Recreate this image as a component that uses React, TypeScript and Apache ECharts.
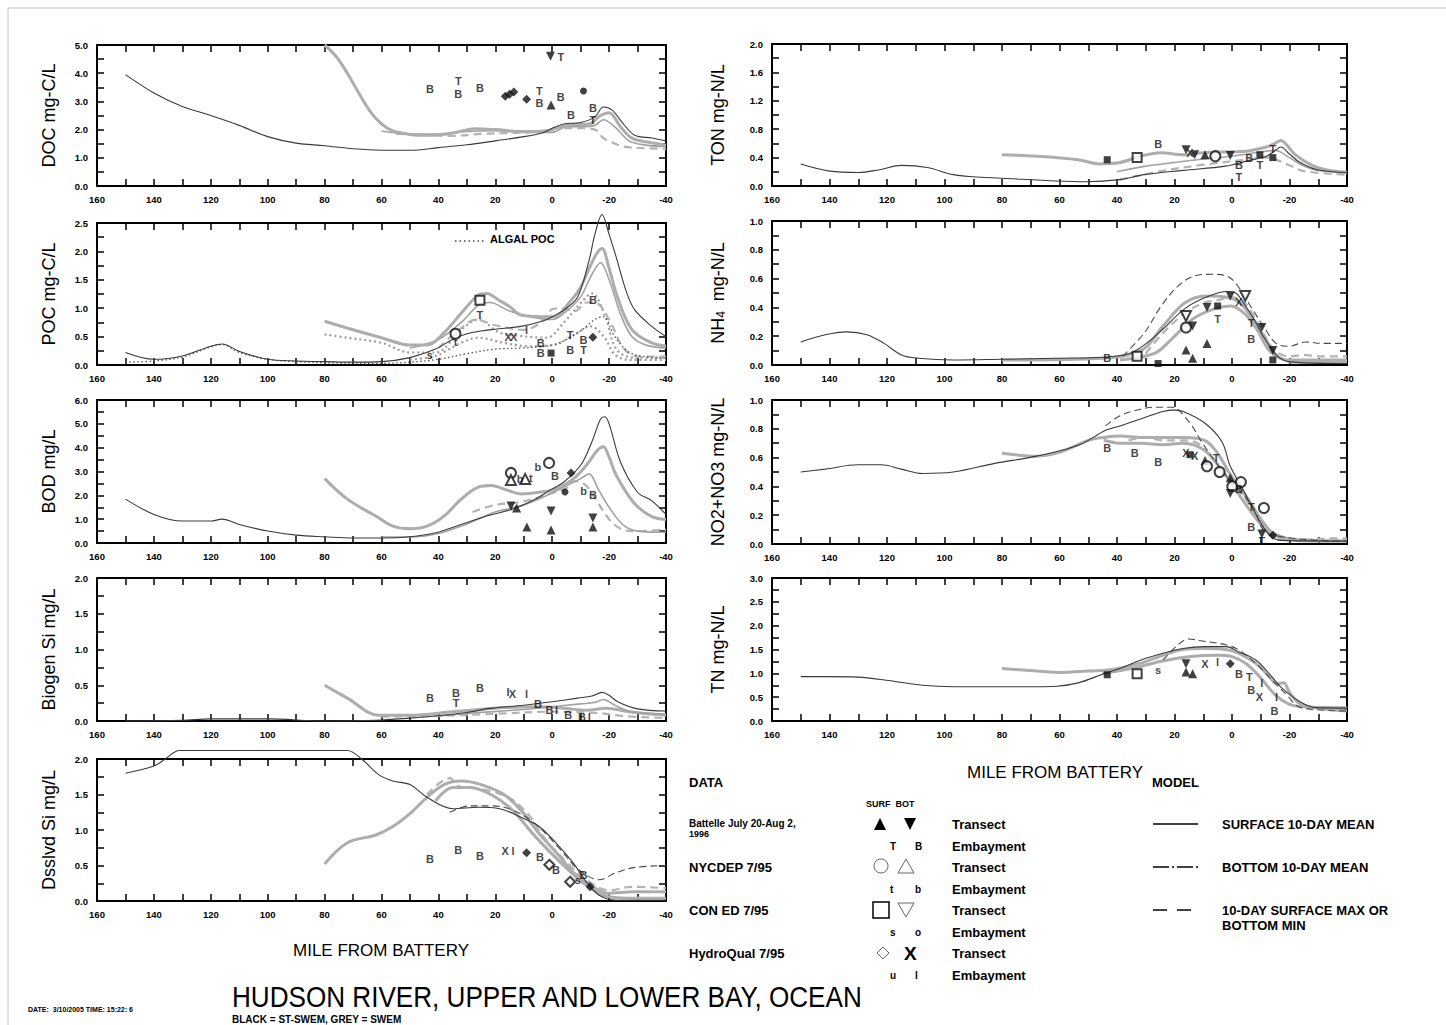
import React, { useEffect, useRef } from "react";
import * as echarts from "echarts";

// ---------- x axis (miles from Battery) ----------
const mileMin = -40;
const mileMax = 160;

// ---------- DOC ----------
const docKMean = [[150,3.95],[140,3.3],[130,2.82],[120,2.5],[110,2.15],[100,1.75],[90,1.52],[80,1.43],[70,1.32],[60,1.27],[50,1.27],[40,1.36],[30,1.46],[20,1.6],[10,1.75],[3,1.9],[0,2.05],[-4,2.2],[-10,2.25],[-15,2.45],[-18,2.8],[-21,2.7],[-25,2.2],[-29,1.8],[-35,1.7],[-40,1.6]];
const docGMean = [[80,5.0],[76,4.6],[72,4.0],[68,3.3],[64,2.65],[60,2.2],[56,1.95],[50,1.83],[45,1.8],[40,1.82],[34,1.9],[27,2.03],[20,2.0],[10,1.93],[2,1.95],[-3,2.1],[-7,2.17],[-13,2.2],[-17,2.5],[-20,2.6],[-24,2.1],[-28,1.7],[-34,1.55],[-40,1.45]];
const docGBot = [[60,1.95],[50,1.85],[40,1.84],[30,1.93],[20,1.96],[10,1.9],[0,1.9],[-5,2.1],[-10,2.1],[-15,2.15],[-18,2.35],[-22,2.1],[-27,1.6],[-33,1.45],[-40,1.4]];
const docGDash = [[55,1.85],[45,1.8],[35,1.78],[25,1.85],[15,1.88],[5,1.92],[-3,2.05],[-10,2.05],[-15,2.0],[-18,1.7],[-21,1.55],[-25,1.4],[-30,1.35],[-40,1.32]];
const docMarks = [[43,3.44,"B"],[33,3.72,"T"],[33,3.25,"B"],[25.4,3.47,"B"],[16.5,3.18,"d"],[15,3.25,"d"],[13.5,3.33,"d"],[9,3.08,"d"],[4.5,3.36,"T"],[4.5,2.95,"B"],[0.4,2.87,"^"],[-3,3.16,"B"],[0.6,4.6,"v"],[-3,4.58,"T"],[-6.6,2.52,"B"],[-11,3.37,"e"],[-14.3,2.75,"B"],[-14.3,2.35,"T"]];

// ---------- POC ----------
const pocKMean = [[150,0.22],[140,0.1],[130,0.16],[120,0.33],[116,0.37],[110,0.24],[100,0.1],[90,0.07],[80,0.06],[70,0.05],[60,0.06],[50,0.13],[41,0.28],[35,0.45],[30,0.55],[25,0.6],[20,0.63],[11,0.68],[3,0.78],[0,0.85],[-5,1.0],[-9,1.2],[-13,1.85],[-15,2.3],[-17.5,2.65],[-20,2.3],[-22.5,1.9],[-26,1.3],[-29,0.97],[-35,0.68],[-40,0.5]];
const pocKDot = [[150,0.05],[140,0.07],[130,0.14],[120,0.32],[116,0.36],[110,0.22],[100,0.1],[90,0.06],[80,0.04],[60,0.03],[50,0.05],[40,0.1],[30,0.2],[20,0.28],[10,0.3],[0,0.35],[-5,0.45],[-10,0.6],[-15,0.8],[-18,0.85],[-22,0.5],[-28,0.2],[-40,0.12]];
const pocGMean = [[80,0.77],[70,0.62],[60,0.48],[50,0.35],[44,0.35],[38,0.57],[32,0.91],[26,1.23],[23,1.26],[19,1.15],[15,1.03],[11,0.88],[3,0.85],[-1,0.85],[-6,1.1],[-10,1.37],[-13,1.7],[-15.5,1.95],[-17.5,2.05],[-20,1.7],[-22.5,1.26],[-26,0.8],[-29,0.57],[-35,0.39],[-40,0.33]];
const pocGBot = [[50,0.3],[40,0.45],[32,0.75],[26,1.05],[22,1.1],[15,0.95],[8,0.85],[0,0.8],[-5,0.95],[-10,1.2],[-14,1.6],[-17,1.8],[-20,1.5],[-24,0.9],[-28,0.5],[-33,0.35],[-40,0.3]];
const pocGDot1 = [[80,0.54],[72,0.48],[60,0.39],[50,0.22],[41,0.22],[32,0.62],[26,0.8],[18.5,0.57],[11,0.51],[2,0.48],[-4,0.74],[-10,1.09],[-14,1.26],[-18.7,0.85],[-22.5,0.28],[-28.6,0.13],[-40,0.13]];
const pocGDot2 = [[50,0.1],[41,0.16],[32,0.39],[26,0.48],[17,0.39],[8,0.33],[-1,0.36],[-7,0.51],[-13.5,0.68],[-18,0.51],[-22.5,0.16],[-28.6,0.09],[-40,0.09]];
const pocGDash = [[40,0.3],[32,0.65],[27,0.8],[20,0.7],[10,0.62],[4,0.75],[0,0.98],[-3,1.0],[-8,0.95],[-12,1.1],[-15,1.1],[-20,0.8],[-25,0.3],[-30,0.15],[-40,0.15]];
const pocMarks = [[43,0.18,"s"],[34,0.55,"O"],[34,0.4,"t"],[25.4,1.14,"S"],[25.4,0.88,"T"],[15.5,0.49,"X"],[13.5,0.49,"X"],[9,0.62,"l"],[4,0.39,"B"],[4,0.21,"B"],[0.4,0.21,"Q"],[-6.3,0.53,"T"],[-6.3,0.26,"B"],[-11,0.44,"B"],[-11,0.26,"T"],[-14.3,0.49,"d"],[-14.3,1.14,"B"]];

// ---------- BOD ----------
const bodKMean = [[150,1.84],[140,1.2],[130,0.92],[120,0.92],[116,1.0],[110,0.78],[100,0.5],[90,0.33],[80,0.26],[70,0.21],[60,0.21],[50,0.26],[41,0.43],[32,0.78],[23,1.13],[14,1.42],[6,1.84],[0,2.27],[-4,2.55],[-10,3.26],[-14,4.26],[-17,5.2],[-18.5,5.3],[-20,5.0],[-24,3.4],[-30,2.13],[-35,1.77],[-40,1.2]];
const bodGMean = [[80,2.7],[72,1.84],[62,1.13],[56,0.71],[50,0.6],[44,0.71],[38,1.13],[32,1.84],[26,2.34],[21.5,2.41],[15.5,2.2],[11,2.06],[4.6,2.13],[-1.5,2.27],[-7.5,2.7],[-12,3.26],[-16,3.9],[-18,4.04],[-20,3.6],[-22.5,2.84],[-28.6,1.7],[-34.7,1.13],[-40,0.99]];
const bodGBot = [[60,0.25],[50,0.25],[40,0.4],[30,0.8],[20,1.3],[10,1.6],[0,2.1],[-5,2.4],[-10,2.7],[-13,2.9],[-16,2.3],[-20,1.5],[-25,0.75],[-30,0.5],[-40,0.45]];
const bodGDash = [[28,1.3],[20,1.6],[12,1.7],[5,1.9],[0,2.1],[-5,2.3],[-8,2.6],[-12,2.4],[-16,1.7],[-20,1.0],[-24,0.6],[-28,0.5],[-40,0.55]];
const bodMarks = [[14.5,2.94,"O"],[14.5,2.64,"A"],[11.3,2.69,"b"],[9.5,2.69,"A"],[7.5,2.72,"t"],[5,3.19,"b"],[1.1,3.36,"O"],[-4.5,2.14,"e"],[-1,2.8,"B"],[-6.6,2.94,"d"],[-11,2.2,"b"],[-14.3,2.0,"B"],[14.5,1.55,"v"],[12.5,1.47,"^"],[8.9,0.67,"^"],[0.4,1.34,"v"],[0.4,0.55,"^"],[-14.3,1.05,"v"],[-14.3,0.67,"^"]];

// ---------- Biogenic Si ----------
const biKMean = [[150,0.0],[130,0.01],[120,0.03],[100,0.03],[80,0.0],[62,0.01],[50,0.04],[41,0.07],[30,0.12],[21,0.18],[10,0.22],[0,0.27],[-9,0.32],[-14,0.35],[-17.5,0.4],[-20,0.36],[-23,0.27],[-30,0.17],[-40,0.14]];
const biKMean2 = [[40,0.07],[25,0.12],[10,0.16],[0,0.2],[-10,0.24],[-15,0.26],[-18,0.3],[-22,0.22],[-28,0.13],[-40,0.1]];
const biGMean = [[80,0.5],[72,0.32],[61,0.08],[50,0.08],[35,0.13],[20,0.18],[5,0.2],[-4,0.18],[-12,0.15],[-19,0.18],[-27,0.13],[-40,0.08]];
const biGDash = [[60,0.06],[41,0.07],[20,0.1],[0,0.13],[-16.5,0.11],[-25,0.07],[-40,0.04]];
const biMarks = [[43,0.32,"B"],[33.8,0.39,"B"],[33.8,0.25,"T"],[25.4,0.46,"B"],[15.5,0.4,"l"],[14,0.38,"X"],[9,0.38,"l"],[5,0.24,"B"],[1,0.16,"B"],[-1.5,0.15,"l"],[-5.6,0.08,"B"],[-10.5,0.05,"B"],[-13,0.06,"l"]];

// ---------- Dissolved Si ----------
const dsKMean = [[150,1.8],[140,1.9],[136,2.0],[131,2.12],[120,2.12],[100,2.12],[80,2.12],[72,2.12],[67,2.0],[61,1.78],[56,1.69],[50,1.64],[44,1.46],[35,1.3],[26,1.32],[18.5,1.3],[11,1.18],[4.6,1.05],[-1.3,0.82],[-7.3,0.54],[-12,0.27],[-16.5,0.08],[-22.5,0.01],[-40,0.01]];
const dsKDash = [[36,1.25],[29,1.34],[21.5,1.34],[14,1.28],[6,1.09],[-3,0.72],[-9,0.45],[-16.5,0.3],[-22.5,0.4],[-28.6,0.47],[-40,0.5]];
const dsGMean = [[80,0.52],[72,0.82],[62,0.93],[56,1.05],[50,1.23],[44,1.46],[38,1.64],[32,1.69],[25,1.64],[17,1.5],[11,1.28],[4.6,0.95],[-1.5,0.68],[-7.5,0.4],[-13.5,0.22],[-19.5,0.11],[-28.6,0.13],[-40,0.13]];
const dsGBot = [[41,1.41],[35,1.6],[29,1.6],[21.5,1.5],[14,1.28],[6,0.91],[-3,0.54],[-10.4,0.27],[-18,0.08],[-27,0.04],[-40,0.04]];
const dsGDash = [[44,1.5],[36,1.73],[33,1.62],[25,1.58],[15,1.45],[8,1.2],[2,0.85],[-5,0.55],[-12,0.3],[-20,0.15],[-28,0.2],[-40,0.18]];
const dsMarks = [[43,0.59,"B"],[33,0.72,"B"],[25.4,0.63,"B"],[16.5,0.7,"X"],[13.8,0.7,"l"],[9,0.68,"d"],[4.3,0.62,"B"],[1,0.51,"D"],[-1.3,0.44,"B"],[-11,0.37,"B"],[-6.3,0.27,"D"],[-13.3,0.2,"d"],[-9,0.3,"s"]];

// ---------- TON ----------
const tonKMean = [[150,0.31],[140,0.21],[130,0.19],[122.6,0.23],[115,0.29],[106,0.26],[97,0.16],[90,0.13],[80,0.11],[61,0.07],[51,0.06],[39,0.09],[30.5,0.16],[17,0.22],[2.3,0.28],[-5,0.35],[-12,0.42],[-15,0.5],[-17,0.55],[-20,0.45],[-23.7,0.33],[-29.6,0.23],[-40,0.19]];
const tonGMean = [[80,0.44],[68,0.42],[53.5,0.37],[46,0.31],[39,0.33],[32,0.42],[24.6,0.47],[17,0.44],[9.9,0.47],[2.5,0.48],[-4.8,0.49],[-12,0.55],[-15,0.6],[-17,0.64],[-19,0.58],[-22,0.44],[-29.6,0.26],[-40,0.19]];
const tonGBot = [[40,0.2],[30,0.28],[20,0.33],[10,0.38],[0,0.42],[-10,0.48],[-15,0.5],[-20,0.4],[-25,0.28],[-30,0.22],[-40,0.2]];
const tonGDash = [[39,0.09],[24.6,0.21],[9.9,0.3],[-4.8,0.37],[-12,0.4],[-19.5,0.3],[-25,0.21],[-40,0.16]];
const tonMarks = [[43.4,0.37,"Q"],[33,0.4,"S"],[25.7,0.59,"B"],[16,0.51,"v"],[14.6,0.47,"X"],[13,0.44,"v"],[9.4,0.44,"^"],[5.8,0.42,"O"],[0.6,0.43,"v"],[-2.4,0.3,"B"],[-2.4,0.12,"T"],[-6,0.4,"B"],[-9.7,0.44,"Q"],[-9.7,0.3,"T"],[-14.2,0.4,"Q"],[-14.2,0.52,"T"]];

// ---------- NH4 ----------
const nhKMean = [[150,0.16],[141.5,0.21],[134,0.23],[127,0.21],[121,0.15],[115,0.07],[109,0.047],[97,0.035],[80,0.04],[61,0.047],[44.6,0.054],[35.7,0.08],[29.8,0.15],[24,0.25],[16.5,0.39],[9.1,0.47],[1.7,0.51],[-1.3,0.5],[-4,0.43],[-7,0.34],[-11.5,0.18],[-15.9,0.06],[-20.8,0.02],[-40,0.01]];
const nhKDash = [[38,0.06],[30.6,0.22],[24.6,0.41],[18.7,0.55],[12.8,0.62],[6.9,0.63],[1,0.61],[-2.7,0.53],[-6.4,0.41],[-10.9,0.27],[-15.3,0.15],[-19.7,0.13],[-25.6,0.16],[-31.5,0.15],[-40,0.15]];
const nhGMean = [[80,0.035],[44.6,0.047],[31.3,0.105],[24,0.27],[16.5,0.43],[9.1,0.48],[1.7,0.47],[-2.8,0.43],[-7.2,0.32],[-11.6,0.18],[-16,0.06],[-22,0.02],[-40,0.02]];
const nhGBot = [[39,0.035],[27,0.08],[21,0.18],[13.6,0.32],[6.2,0.39],[0.3,0.41],[-4.2,0.36],[-8.6,0.25],[-13,0.1],[-19,0.035],[-40,0.035]];
const nhGDash = [[30,0.08],[25,0.2],[20,0.3],[15,0.38],[10,0.43],[5,0.45],[0,0.47],[-5,0.42],[-10,0.25],[-15,0.1],[-20,0.06],[-25,0.07],[-30,0.06],[-40,0.06]];
const nhMarks = [[43.4,0.047,"B"],[33,0.06,"S"],[25.7,0.01,"Q"],[16,0.105,"^"],[13.7,0.047,"^"],[8.7,0.15,"^"],[16,0.34,"V"],[13.7,0.27,"v"],[16,0.26,"O"],[8.7,0.4,"v"],[5,0.41,"Q"],[5,0.32,"T"],[0.6,0.48,"v"],[-2.4,0.44,"X"],[-4.6,0.48,"V"],[-6.7,0.29,"T"],[-10.4,0.26,"v"],[-6.7,0.18,"B"],[-14.2,0.1,"v"],[-14.2,0.035,"Q"]];

// ---------- NO2+NO3 ----------
const noKMean = [[150,0.5],[141.5,0.52],[130,0.55],[122,0.55],[115,0.52],[107.6,0.49],[97,0.5],[82.5,0.56],[68,0.61],[53,0.69],[44,0.79],[39,0.82],[31.6,0.87],[24,0.92],[20.4,0.93],[17,0.92],[9.5,0.84],[3.5,0.71],[0.6,0.54],[-3.8,0.38],[-8.2,0.21],[-12.7,0.07],[-17,0.025],[-40,0.02]];
const noKDash = [[44,0.82],[39,0.89],[33,0.93],[27,0.95],[21,0.95],[15,0.85],[10.6,0.71],[4.6,0.54],[-1.3,0.4],[-7.2,0.26],[-12.7,0.07],[-40,0.02]];
const noGMean = [[80,0.63],[68,0.61],[59.5,0.64],[50,0.72],[44.6,0.74],[39,0.75],[31.6,0.74],[24,0.74],[17,0.74],[9.5,0.72],[5,0.63],[0.5,0.48],[-5.3,0.32],[-9.8,0.18],[-14,0.08],[-20,0.035],[-26,0.02],[-40,0.02]];
const noGBot = [[44.6,0.72],[39,0.7],[31.6,0.7],[24,0.69],[17,0.7],[9.5,0.65],[3.5,0.51],[-2.5,0.34],[-8.3,0.18],[-12.7,0.08],[-20,0.035],[-40,0.02]];
const noGDash = [[36,0.72],[30,0.74],[24,0.72],[17,0.72],[12,0.7],[8,0.62],[3,0.5],[-2,0.38],[-7,0.25],[-12,0.1],[-18,0.03],[-25,0.03],[-35,0.04],[-40,0.04]];
const noMarks = [[43.4,0.67,"B"],[33.8,0.63,"B"],[25.7,0.57,"B"],[16,0.63,"X"],[14.6,0.62,"Q"],[13,0.61,"X"],[9.4,0.58,"^"],[8.7,0.54,"O"],[5.5,0.6,"T"],[4.3,0.5,"O"],[0.6,0.46,"^"],[-0.1,0.4,"O"],[0.6,0.35,"v"],[-2.4,0.38,"B"],[-3.1,0.43,"O"],[-6.7,0.26,"T"],[-11.1,0.25,"O"],[-6.7,0.12,"B"],[-10.4,0.07,"v"],[-10.4,0.02,"T"],[-14.2,0.06,"d"]];

// ---------- TN ----------
const tnKMean = [[150,0.93],[141.5,0.93],[130,0.92],[119.6,0.85],[107.6,0.75],[97,0.72],[82.5,0.72],[68,0.72],[61,0.73],[53.5,0.8],[44.6,0.99],[39,1.1],[31.6,1.28],[24,1.42],[17,1.52],[9.5,1.56],[2.2,1.56],[-2.4,1.45],[-8.3,1.28],[-14,0.92],[-17,0.71],[-23,0.43],[-29,0.28],[-40,0.27]];
const tnKDash = [[24,1.28],[18.2,1.63],[15.2,1.72],[9.5,1.67],[2.2,1.6],[-2.4,1.49],[-8.3,1.21],[-14,0.85],[-18.7,0.57],[-24,0.28],[-40,0.21]];
const tnGMean = [[80,1.1],[68,1.05],[59.5,1.02],[50,1.05],[41.6,1.08],[32.5,1.2],[24,1.38],[17,1.5],[9.5,1.52],[2.2,1.5],[-2.4,1.42],[-8.3,1.21],[-12.7,0.95],[-15.7,0.78],[-18,0.8],[-20,0.6],[-24,0.35],[-40,0.21]];
const tnGBot = [[45,1.0],[35,1.1],[25,1.25],[15,1.35],[5,1.38],[0,1.35],[-5,1.2],[-10,0.9],[-15,0.55],[-20,0.35],[-25,0.3],[-40,0.28]];
const tnMarks = [[43.4,0.97,"Q"],[33,0.99,"S"],[25.7,1.06,"s"],[16,1.2,"v"],[16,1.03,"^"],[13.7,0.99,"^"],[9.4,1.2,"X"],[5,1.23,"l"],[0.6,1.2,"d"],[-2.4,0.99,"B"],[-6,0.92,"T"],[-10.4,0.8,"l"],[-6.7,0.64,"B"],[-9.5,0.5,"X"],[-15.5,0.5,"l"],[-14.8,0.22,"B"]];

// ---------- panel definitions (content) ----------
const panels = [
  { name: "DOC mg-C/L", yMax: 5, tick: 0.5, label: 1, lines: [[docGBot, "gt"], [docGDash, "gd"], [docGMean, "g"], [docKMean, "k"]], marks: docMarks },
  { name: "POC mg-C/L", yMax: 2.5, tick: 0.25, label: 0.5, lines: [[pocGDot2, "gdot"], [pocGDot1, "gdot"], [pocGDash, "gd"], [pocGBot, "gt"], [pocGMean, "g"], [pocKDot, "kdot"], [pocKMean, "k"]], marks: pocMarks },
  { name: "BOD mg/L", yMax: 6, tick: 0.5, label: 1, lines: [[bodGDash, "gd"], [bodGBot, "gt"], [bodGMean, "g"], [bodKMean, "k"]], marks: bodMarks },
  { name: "Biogen Si mg/L", yMax: 2, tick: 0.25, label: 0.5, lines: [[biGDash, "gd"], [biGMean, "g"], [biKMean2, "gt"], [biKMean, "k"]], marks: biMarks },
  { name: "Dsslvd Si mg/L", yMax: 2, tick: 0.25, label: 0.5, lines: [[dsGDash, "gd"], [dsGBot, "g"], [dsGMean, "g"], [dsKDash, "kd"], [dsKMean, "k"]], marks: dsMarks },
  { name: "TON mg-N/L", yMax: 2, tick: 0.2, label: 0.4, lines: [[tonGDash, "gd"], [tonGBot, "gt"], [tonGMean, "g"], [tonKMean, "k"]], marks: tonMarks },
  { name: "NH{s|4}  mg-N/L", yMax: 1, tick: 0.1, label: 0.2, lines: [[nhGDash, "gd"], [nhGBot, "g"], [nhGMean, "g"], [nhKDash, "kd"], [nhKMean, "k"]], marks: nhMarks },
  { name: "NO2+NO3 mg-N/L", yMax: 1, tick: 0.1, label: 0.2, lines: [[noGDash, "gd"], [noGBot, "g"], [noGMean, "g"], [noKDash, "kd"], [noKMean, "k"]], marks: noMarks },
  { name: "TN mg-N/L", yMax: 3, tick: 0.25, label: 0.5, lines: [[tnGBot, "g"], [tnGMean, "g"], [tnKDash, "kd"], [tnKMean, "k"]], marks: tnMarks },
];

// ---------- layout (positions only) ----------
const layout = [
  { left: 97, top: 45, width: 569, height: 141, gap: 39 },
  { left: 97, top: 223, width: 569, height: 142, gap: 39 },
  { left: 97, top: 400, width: 569, height: 143, gap: 39 },
  { left: 97, top: 578, width: 569, height: 143, gap: 39 },
  { left: 97, top: 759, width: 569, height: 142, gap: 39 },
  { left: 772, top: 44, width: 575, height: 142, gap: 45 },
  { left: 772, top: 221, width: 575, height: 144, gap: 45 },
  { left: 772, top: 400, width: 575, height: 144, gap: 45 },
  { left: 772, top: 578, width: 575, height: 143, gap: 45 },
];

const lineStyles: Record<string, any> = {
  k: { color: "#3a3a3a", width: 1.1, type: "solid" },
  kd: { color: "#4a4a4a", width: 1.1, type: [7, 4] },
  kdot: { color: "#555555", width: 1.3, type: [1.5, 2.5] },
  g: { color: "#adadad", width: 3, type: "solid" },
  gt: { color: "#a2a2a2", width: 1.6, type: "solid" },
  gd: { color: "#b3b3b3", width: 2.2, type: [8, 5] },
  gdot: { color: "#9c9c9c", width: 2.2, type: [2, 3] },
};

const symbolMap: Record<string, any> = {
  "^": { symbol: "triangle", size: 9, rotate: 0 },
  v: { symbol: "triangle", size: 9, rotate: 180 },
  O: { symbol: "emptyCircle", size: 10, rotate: 0 },
  A: { symbol: "emptyTriangle", size: 10, rotate: 0 },
  S: { symbol: "emptyRect", size: 9, rotate: 0 },
  V: { symbol: "emptyTriangle", size: 10, rotate: 180 },
  D: { symbol: "emptyDiamond", size: 10, rotate: 0 },
  d: { symbol: "diamond", size: 9, rotate: 0 },
  Q: { symbol: "rect", size: 7, rotate: 0 },
  e: { symbol: "circle", size: 7, rotate: 0 },
};

const FONT = "Liberation Sans, Arial, sans-serif";

function buildOption() {
  const grid: any[] = [];
  const xAxis: any[] = [];
  const yAxis: any[] = [];
  const series: any[] = [];
  const axisLine = { show: true, onZero: false, lineStyle: { color: "#000", width: 2 } };
  const axisTick = { show: true, inside: true, length: 7, lineStyle: { color: "#000", width: 1.5 } };

  panels.forEach((p, i) => {
    const L = layout[i];
    grid.push({ left: L.left, top: L.top, width: L.width, height: L.height, containLabel: false });
    const xBase = { type: "value", gridIndex: i, min: mileMin, max: mileMax, interval: 10, inverse: true, axisLine, axisTick, splitLine: { show: false } };
    xAxis.push({
      ...xBase, position: "bottom",
      axisLabel: { show: true, fontSize: 9.5, fontWeight: "bold", color: "#000", margin: 8, fontFamily: FONT, formatter: (v: number) => (v % 20 === 0 ? String(v) : "") },
    });
    xAxis.push({ ...xBase, position: "top", axisLabel: { show: false } });
    const yBase = { type: "value", gridIndex: i, min: 0, max: p.yMax, interval: p.tick, axisLine, axisTick, splitLine: { show: false } };
    yAxis.push({
      ...yBase, position: "left",
      name: p.name, nameLocation: "middle", nameGap: L.gap, nameRotate: 90,
      nameTextStyle: { fontSize: 18, color: "#000", fontFamily: FONT, rich: { s: { fontSize: 12, fontFamily: FONT, color: "#000", verticalAlign: "bottom" } } },
      axisLabel: {
        show: true, fontSize: 9.5, fontWeight: "bold", color: "#000", margin: 9, fontFamily: FONT,
        formatter: (v: number) => { const r = v / p.label; return Math.abs(r - Math.round(r)) < 1e-6 ? v.toFixed(1) : ""; },
      },
    });
    yAxis.push({ ...yBase, position: "right", axisLabel: { show: false } });

    p.lines.forEach(([data, st]: any) => {
      const s = lineStyles[st];
      series.push({
        type: "line", xAxisIndex: 2 * i, yAxisIndex: 2 * i, data, showSymbol: false, symbol: "none",
        smooth: 0.35, clip: false, silent: true, z: st.startsWith("k") ? 3 : 2,
        lineStyle: { color: s.color, width: s.width, type: s.type },
      });
    });

    const groups: Record<string, any[]> = {};
    const letters: any[] = [];
    (p.marks as any[]).forEach(([m, v, c]) => {
      if (symbolMap[c]) { (groups[c] = groups[c] || []).push([m, v]); }
      else letters.push({ name: c, value: [m, v] });
    });
    Object.keys(groups).forEach((c) => {
      const sm = symbolMap[c];
      series.push({
        type: "scatter", xAxisIndex: 2 * i, yAxisIndex: 2 * i, data: groups[c], symbol: sm.symbol, symbolSize: sm.size, symbolRotate: sm.rotate,
        itemStyle: { color: "#111", borderWidth: 1.2 }, z: 5, silent: true,
      });
    });
    series.push({
      type: "scatter", xAxisIndex: 2 * i, yAxisIndex: 2 * i, data: letters, symbol: "circle", symbolSize: 1,
      itemStyle: { color: "rgba(0,0,0,0)" }, z: 6, silent: true,
      label: { show: true, position: "inside", formatter: "{b}", fontSize: 11, fontWeight: "bold", color: "#111", fontFamily: FONT },
    });
  });

  const t = (text: string, x: number, y: number, font: string, extra: any = {}) => ({
    type: "text", x, y, ...extra, style: { text, fill: "#000", font, align: "left", verticalAlign: "middle", ...(extra.style || {}) },
  });

  const graphic: any[] = [
    { type: "line", shape: { x1: 8, y1: 8, x2: 1446, y2: 8 }, style: { stroke: "#c4c4c4", lineWidth: 1 } },
    { type: "line", shape: { x1: 8, y1: 8, x2: 8, y2: 1025 }, style: { stroke: "#c4c4c4", lineWidth: 1 } },
    // algal POC key
    { type: "line", shape: { x1: 455, y1: 241, x2: 486, y2: 241 }, style: { stroke: "#444", lineWidth: 1.3, lineDash: [1.5, 3] } },
    t("ALGAL POC", 490, 239, "bold 11px " + FONT),
    // x titles
    t("MILE FROM BATTERY", 381, 950, "17px " + FONT, { style: { align: "center" } }),
    t("MILE FROM BATTERY", 1055, 772, "17px " + FONT, { style: { align: "center" } }),
    // legend
    t("DATA", 689, 782, "bold 13px " + FONT),
    t("MODEL", 1152, 782, "bold 13px " + FONT),
    t("SURF  BOT", 866, 804, "bold 9px " + FONT),
    t("Battelle July 20-Aug 2,", 689, 823, "bold 10px " + FONT),
    t("1996", 689, 834, "bold 9px " + FONT),
    t("NYCDEP 7/95", 689, 867, "bold 13px " + FONT),
    t("CON ED 7/95", 689, 910, "bold 13px " + FONT),
    t("HydroQual 7/95", 689, 953, "bold 13px " + FONT),
    { type: "polygon", shape: { points: [[874, 830], [886, 830], [880, 818]] }, style: { fill: "#000" } },
    { type: "polygon", shape: { points: [[904, 818], [916, 818], [910, 830]] }, style: { fill: "#000" } },
    { type: "circle", shape: { cx: 881, cy: 866, r: 7 }, style: { fill: "none", stroke: "#666", lineWidth: 1 } },
    { type: "polygon", shape: { points: [[898, 873], [914, 873], [906, 859]] }, style: { fill: "none", stroke: "#666", lineWidth: 1 } },
    { type: "rect", shape: { x: 873, y: 902, width: 16, height: 16 }, style: { fill: "none", stroke: "#000", lineWidth: 1.5 } },
    { type: "polygon", shape: { points: [[898, 903], [914, 903], [906, 917]] }, style: { fill: "none", stroke: "#666", lineWidth: 1 } },
    { type: "polygon", shape: { points: [[883, 947], [889, 953], [883, 959], [877, 953]] }, style: { fill: "none", stroke: "#666", lineWidth: 1 } },
    t("X", 904, 953, "bold 19px " + FONT),
  ];
  const emb = [["T", "B", 846], ["t", "b", 889], ["s", "o", 932], ["u", "l", 975]];
  emb.forEach(([a, b, y]: any) => {
    graphic.push(t(a, 890, y, "bold 10px " + FONT));
    graphic.push(t(b, 915, y, "bold 10px " + FONT));
    graphic.push(t("Embayment", 952, y, "bold 13px " + FONT));
  });
  [824, 867, 910, 953].forEach((y) => graphic.push(t("Transect", 952, y, "bold 13px " + FONT)));
  graphic.push({ type: "line", shape: { x1: 1153, y1: 824, x2: 1198, y2: 824 }, style: { stroke: "#000", lineWidth: 1.5 } });
  graphic.push({ type: "line", shape: { x1: 1153, y1: 867, x2: 1198, y2: 867 }, style: { stroke: "#000", lineWidth: 1.5, lineDash: [16, 3, 2, 3] } });
  graphic.push({ type: "line", shape: { x1: 1153, y1: 910, x2: 1198, y2: 910 }, style: { stroke: "#000", lineWidth: 1.5, lineDash: [14, 10] } });
  graphic.push(t("SURFACE 10-DAY MEAN", 1222, 824, "bold 13px " + FONT));
  graphic.push(t("BOTTOM 10-DAY MEAN", 1222, 867, "bold 13px " + FONT));
  graphic.push(t("10-DAY SURFACE MAX OR", 1222, 910, "bold 13px " + FONT));
  graphic.push(t("BOTTOM MIN", 1222, 925, "bold 13px " + FONT));
  // titles
  graphic.push(t("HUDSON RIVER, UPPER AND LOWER BAY, OCEAN", 232, 997, "30px " + FONT, { scaleX: 0.87 }));
  graphic.push(t("BLACK = ST-SWEM, GREY = SWEM", 232, 1019, "bold 10px " + FONT));
  graphic.push(t("DATE:  3/10/2005 TIME: 15:22: 6", 28, 1009, "bold 7px " + FONT));

  return {
    animation: false,
    backgroundColor: "#ffffff",
    textStyle: { fontFamily: FONT },
    grid, xAxis, yAxis, series, graphic,
  };
}

export default function App() {
  const ref = useRef<HTMLDivElement>(null);
  useEffect(() => {
    if (!ref.current) return;
    const chart = echarts.init(ref.current, undefined, { renderer: "svg" });
    chart.setOption(buildOption() as any);
    return () => chart.dispose();
  }, []);
  return <div ref={ref} style={{ position: "absolute", left: 0, top: 0, width: 1446, height: 1025, background: "#fff" }} />;
}
